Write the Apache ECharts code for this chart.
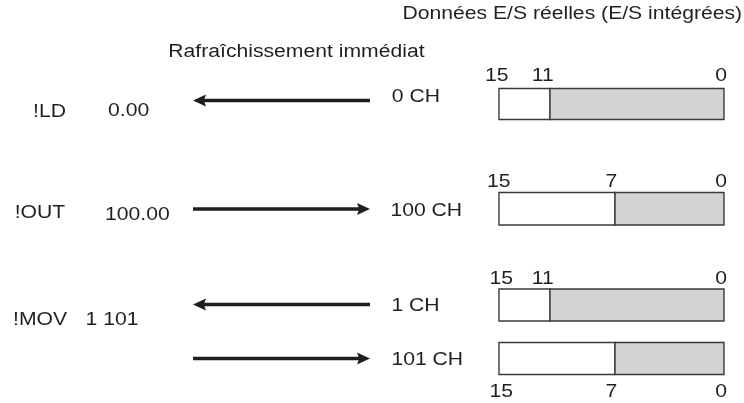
<!DOCTYPE html>
<html><head><meta charset="utf-8">
<script src="https://cdn.jsdelivr.net/npm/echarts@6/dist/echarts.min.js"></script>
<style>html,body{margin:0;padding:0;background:#fff}#c{width:744px;height:403px}</style>
</head><body><div id="c"></div>
<script>
// ---------- data ----------
const titleRight = 'Données E/S réelles (E/S intégrées)';
const titleLeft = 'Rafraîchissement immédiat';
const instructions = ['!LD', '!OUT', '!MOV'];
const operands = ['0.00', '100.00', '1 101'];
const channels = ['0 CH', '100 CH', '1 CH', '101 CH'];
const directions = ['in', 'out', 'in', 'out'];   // in = arrow points left (read), out = arrow points right (write)
const highBits = ['15', '15', '15', '15'];
const splitBits = ['11', '7', '11', '7'];
const lowBits = ['0', '0', '0', '0'];

// ---------- layout (diagram units on hidden 744 x 403 axes) ----------
const TXT = '#231f20';
const FS = 18, SX = 1.175;
const FONT = '"Liberation Sans", Arial, Helvetica, sans-serif';
const boxLeft = 499, boxRight = 724;
const boxTop = [88.5, 192.5, 289, 342.5];
const boxBottom = [119.5, 225, 321, 374.5];
const splitX = [550, 615, 550, 615];
const arrowY = [100.5, 209, 304.5, 358.5];
const arrowL = 193, arrowR = 370;
const instrPos = [[33, 112], [14.7, 213.5], [13, 320]];
const operandPos = [[108, 111.5], [105, 215], [85.5, 320]];
const channelPos = [[391.8, 97], [390.4, 211.5], [391.4, 306], [391.4, 359.7]];
const bitLabelY = [75.8, 181.8, 278.8, 392];
const highBitX = [485, 487, 489.4, 489.4];

// build text items
const texts = [];
texts.push({t: titleRight, x: 402.4, y: 13.7, a: 'left'});
texts.push({t: titleLeft, x: 168.3, y: 51.8, a: 'left'});
instructions.forEach((s, i) => texts.push({t: s, x: instrPos[i][0], y: instrPos[i][1], a: 'left'}));
operands.forEach((s, i) => texts.push({t: s, x: operandPos[i][0], y: operandPos[i][1], a: 'left'}));
channels.forEach((s, i) => texts.push({t: s, x: channelPos[i][0], y: channelPos[i][1], a: 'left'}));
highBits.forEach((s, i) => texts.push({t: s, x: highBitX[i], y: bitLabelY[i], a: 'left'}));
splitBits.forEach((s, i) => texts.push({t: s, x: splitX[i] + (s === '11' ? 3.8 : 2.2), y: bitLabelY[i], a: 'right'}));
lowBits.forEach((s, i) => texts.push({t: s, x: boxRight + 3, y: bitLabelY[i], a: 'right'}));

const chart = echarts.init(document.getElementById('c'), null, {renderer: 'canvas'});
chart.setOption({
  animation: false,
  backgroundColor: '#ffffff',
  grid: {left: 0, right: 0, top: 0, bottom: 0},
  xAxis: {type: 'value', min: 0, max: 744, show: false},
  yAxis: {type: 'value', min: 0, max: 403, inverse: true, show: false},
  series: [
    {
      type: 'custom', silent: true, clip: false,
      data: channels.map((c, i) => [boxLeft, boxTop[i], boxRight, boxBottom[i], splitX[i]]),
      renderItem: function (params, api) {
        const p0 = api.coord([api.value(0), api.value(1)]);
        const p1 = api.coord([api.value(2), api.value(3)]);
        const ps = api.coord([api.value(4), api.value(1)]);
        const st = {stroke: '#3a3a3a', lineWidth: 1.4};
        return {type: 'group', children: [
          {type: 'rect', shape: {x: p0[0], y: p0[1], width: ps[0] - p0[0], height: p1[1] - p0[1]}, style: Object.assign({fill: '#ffffff'}, st)},
          {type: 'rect', shape: {x: ps[0], y: p0[1], width: p1[0] - ps[0], height: p1[1] - p0[1]}, style: Object.assign({fill: '#d1d3d4'}, st)}
        ]};
      }
    },
    {
      type: 'custom', silent: true, clip: false,
      data: directions.map((d, i) => d === 'in' ? [arrowR, arrowY[i], arrowL, arrowY[i]] : [arrowL, arrowY[i], arrowR, arrowY[i]]),
      renderItem: function (params, api) {
        const a = api.coord([api.value(0), api.value(1)]);
        const b = api.coord([api.value(2), api.value(3)]);
        const dir = b[0] > a[0] ? 1 : -1;
        const hl = 13, hw = 6, notch = 2.2;
        const baseX = b[0] - dir * hl;
        return {type: 'group', children: [
          {type: 'line', shape: {x1: a[0], y1: a[1], x2: baseX + dir * notch, y2: b[1]}, style: {stroke: '#1e1e1e', lineWidth: 3.5}},
          {type: 'polygon', shape: {points: [[b[0], b[1]], [baseX, b[1] - hw], [baseX + dir * notch, b[1]], [baseX, b[1] + hw]]}, style: {fill: '#1e1e1e'}}
        ]};
      }
    },
    {
      type: 'custom', silent: true, clip: false,
      data: texts.map(o => [o.x, o.y]),
      renderItem: function (params, api) {
        const o = texts[params.dataIndex];
        const p = api.coord([api.value(0), api.value(1)]);
        return {type: 'text', x: p[0], y: p[1], scaleX: SX,
          style: {text: o.t, x: 0, y: 0, fill: TXT, fontSize: FS, fontFamily: FONT, align: o.a, verticalAlign: 'middle'}};
      }
    }
  ]
});
</script>
</body></html>
